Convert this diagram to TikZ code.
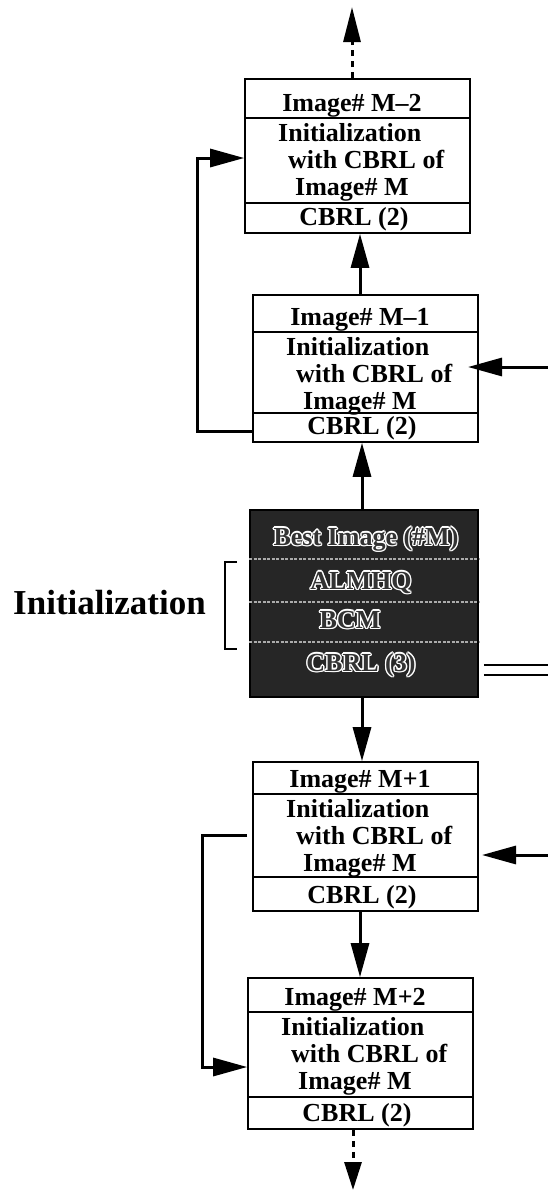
\documentclass[tikz,border=0pt]{standalone}
\usepackage{fontspec}
\setmainfont{Liberation Serif}
\usetikzlibrary{arrows.meta,calc}
\tikzset{
  stagebox/.style={draw, line width=1.6pt, minimum width=225pt, inner sep=0pt, fill=white},
  rowline/.style={line width=1.3pt},
  txt/.style={anchor=base, inner sep=0pt, font=\fontsize{26}{30}\selectfont\bfseries},
  txtl/.style={txt, anchor=base west},
  conn/.style={line width=3pt, -{Triangle[length=34pt,width=18pt]}},
  dashconn/.style={line width=3pt, dash pattern=on 6pt off 5pt, -{Triangle[length=#1,width=17pt]}},
  darkbox/.style={draw, line width=1.6pt, fill=black!85, minimum width=228pt, minimum height=187pt, inner sep=0pt},
  darktxt/.style={txt, text=white},
  darkinner/.style={txt, text=black!80},
  darkrow/.style={line width=1.2pt, draw=gray!65, dash pattern=on 3pt off 1.5pt},
}
\newcommand\stageblock[7]{% name, left, top, bottom, row1, row2, header
  \node[stagebox, minimum height={#4pt-#3pt}] (#1) at ({#2+112.5},{(#3+#4)/2}) {};
  \draw[rowline] (#1.west |- 0,#5) -- (#1.east |- 0,#5);
  \draw[rowline] (#1.west |- 0,#6) -- (#1.east |- 0,#6);
  \node[txt] (#1h) at ({#2+107},{#5-7}) {#7};
  \node[txtl] (#1ia) at ({#2+33},{#5+23}) {Initialization};
  \node[txtl] (#1ib) at ({#2+43},{#5+50}) {with CBRL of};
  \node[txtl] (#1ic) at ({#2+50},{#5+77}) {Image\# M};
  \node[txt] (#1c) at ({#2+109},{#4-7.5}) {CBRL (2)};
}
\newcommand\outlinetext[4]{% name, x, y, text
  \foreach \dx/\dy [count=\k] in {1.4/0,-1.4/0,0/1.4,0/-1.4,1/1,-1/1,1/-1,-1/-1}
    \node[darktxt] (#1o\k) at ({#2+\dx},{#3+\dy}) {#4};
  \node[darkinner] (#1) at (#2,#3) {#4};
}
\begin{document}
\begin{tikzpicture}[x=1pt,y=-1pt]
\useasboundingbox (0,0) rectangle (548,1197);

% stage boxes
\stageblock{b1}{245}{79}{233}{118}{203}{Image\# M–2}
\stageblock{b2}{253}{295}{442}{332}{413}{Image\# M–1}
\stageblock{b3}{253}{762}{911}{794}{877}{Image\# M+1}
\stageblock{b4}{248}{978}{1129}{1012}{1097}{Image\# M+2}

% dark box
\node[darkbox] (dk) at (364,603.5) {};
\draw[darkrow] (dk.west |- 0,559) -- (dk.east |- 0,559);
\draw[darkrow] (dk.west |- 0,602) -- (dk.east |- 0,602);
\draw[darkrow] (dk.west |- 0,642) -- (dk.east |- 0,642);
\outlinetext{dka}{366}{545}{Best Image (\#M)}
\outlinetext{dkb}{361}{589}{ALMHQ}
\outlinetext{dkc}{350}{628}{BCM}
\outlinetext{dkd}{361}{671}{CBRL (3)}

% initialization label and bracket
\node[anchor=base west, inner sep=0pt, font=\fontsize{35}{40}\selectfont\bfseries] (initlbl) at (13,614) {Initialization};
\coordinate (brt) at (237,562);
\coordinate (brb) at (237,649);
\draw[line width=1.8pt] (brt) -- ++(-12,0) -- ++(0,87) -- (brb);

% vertical connectors
\coordinate (v1) at (360,0);
\coordinate (v2) at (362,0);
\draw[conn] (b2.north -| v1) -- (b1.south -| v1);
\draw[conn] (dk.north -| v2) -- (b2.south -| v2);
\draw[conn] (dk.south -| v2) -- (b3.north -| v2);
\draw[conn] (b3.south -| v1) -- (b4.north -| v1);

% dashed continuation arrows
\coordinate (topend) at (352,7);
\coordinate (botend) at (353,1190);
\draw[dashconn=35pt] (b1.north -| topend) -- (topend);
\draw[dashconn=28pt] (b4.south -| botend) -- (botend);

% left feedback connectors
\coordinate (lx1) at (197,158);
\draw[conn] (b2.west |- 0,431) -| (lx1) -- (b1.west |- lx1);
\coordinate (ls2) at (247,835);
\coordinate (lx2) at (202,1067);
\draw[conn] (ls2) -| (lx2) -- (b4.west |- lx2);

% right incoming arrows
\coordinate (r1) at (548,367);
\coordinate (r1t) at (468,367);
\draw[conn] (r1) -- (r1t);
\coordinate (r2) at (548,855);
\coordinate (r2t) at (482,855);
\draw[conn] (r2) -- (r2t);

% double line from dark box
\coordinate (r3a) at (548,665);
\coordinate (r3b) at (548,675);
\draw[line width=2pt] ([xshift=5pt]dk.east |- r3a) -- (r3a);
\draw[line width=2pt] ([xshift=5pt]dk.east |- r3b) -- (r3b);
\end{tikzpicture}
\end{document}
